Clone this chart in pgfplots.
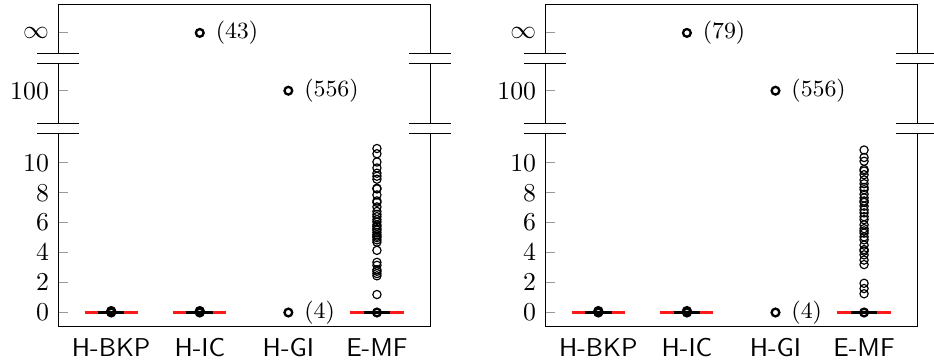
\documentclass[border=0pt]{standalone}
\usepackage{pgfplots}
\pgfplotsset{compat=1.18}
\begin{document}
\begin{tikzpicture}
\pgfplotsset{
 brk/.style={
  scale only axis, width=144.2pt, height=124.8pt,
  xmin=0.4, xmax=4.6, ymin=-0.96, ymax=20.54,
  xtick={1,2,3,4}, xticklabels={H-BKP,H-IC,H-GI,E-MF},
  x tick label style={font=\sffamily, yshift=-1pt},
  x tick style={draw=none},
  ytick={0,2,4,6,8,10,14.81,18.67},
  yticklabels={$0$,$2$,$4$,$6$,$8$,$10$,$100$,$\infty$},
  ytick pos=left,
  y tick style={gray!80, line width=0.4pt},
  major tick length=3.9pt,
  tick align=inside,
  clip=false,
  axis line style={line width=0.4pt},
 },
 med/.style={red!90!white, line width=1pt, mark=none},
 whk/.style={black, line width=0.8pt, mark=none},
 outl/.style={only marks, mark=o, mark size=1.6pt, black, mark options={line width=0.45pt}},
 outb/.style={only marks, mark=o, mark size=1.5pt, black, mark options={line width=0.9pt}},
}
\tikzset{lbl/.style={anchor=west, inner sep=0pt, xshift=6pt, font=\small}}
\newcommand{\brkmark}[1]{%
 \fill[white] ([xshift=-8.1pt,yshift=-1.94pt]#1) rectangle ([xshift=8.1pt,yshift=1.94pt]#1);
 \draw[line width=0.4pt] ([xshift=-8.1pt,yshift=-1.94pt]#1) -- ([xshift=8.1pt,yshift=-1.94pt]#1);
 \draw[line width=0.4pt] ([xshift=-8.1pt,yshift=1.94pt]#1) -- ([xshift=8.1pt,yshift=1.94pt]#1);}

% ---------- left panel ----------
\begin{axis}[brk, name=L]
\addplot[med] coordinates {(0.7,0) (1.3,0)};
\addplot[whk] coordinates {(0.85,0) (1.15,0)};
\addplot[med] coordinates {(1.7,0) (2.3,0)};
\addplot[whk] coordinates {(1.85,0) (2.15,0)};
\addplot[med] coordinates {(3.7,0) (4.3,0)};
\addplot[whk] coordinates {(3.85,0) (4.15,0)};
\addplot[outb] coordinates {(1,0) (1,0.05) (1,0.1) (2,0) (2,0.05) (2,0.1) (2,18.67) (3,14.81) (3,0) (4,0)};
\addplot[outl] table[row sep=\\] {x y\\
4 1.2\\ 4 2.45\\ 4 2.6\\ 4 2.75\\ 4 2.85\\ 4 3.15\\ 4 3.35\\ 4 4.15\\ 4 4.7\\ 4 4.85\\ 4 5.0\\ 4 5.1\\ 4 5.2\\ 4 5.35\\ 4 5.5\\ 4 5.6\\ 4 5.75\\ 4 5.85\\ 4 6.05\\ 4 6.2\\ 4 6.4\\ 4 6.55\\ 4 6.75\\ 4 7.05\\ 4 7.35\\ 4 7.45\\ 4 7.85\\ 4 8.25\\ 4 8.3\\ 4 8.9\\ 4 9.1\\ 4 9.3\\ 4 9.65\\ 4 10.05\\ 4 10.6\\ 4 10.95\\
};
\node[lbl] at (axis cs:2,18.67) {$(43)$};
\node[lbl] at (axis cs:3,14.81) {$(556)$};
\node[lbl] at (axis cs:3,0) {$(4)$};
\coordinate (L1) at (axis cs:0.4,12.3);
\coordinate (L2) at (axis cs:0.4,16.98);
\coordinate (L3) at (axis cs:4.6,12.3);
\coordinate (L4) at (axis cs:4.6,16.98);
\end{axis}
\brkmark{L1}\brkmark{L2}\brkmark{L3}\brkmark{L4}

% ---------- right panel ----------
\begin{axis}[brk, name=R, at={(188.8pt,0pt)}]
\addplot[med] coordinates {(0.7,0) (1.3,0)};
\addplot[whk] coordinates {(0.85,0) (1.15,0)};
\addplot[med] coordinates {(1.7,0) (2.3,0)};
\addplot[whk] coordinates {(1.85,0) (2.15,0)};
\addplot[med] coordinates {(3.7,0) (4.3,0)};
\addplot[whk] coordinates {(3.85,0) (4.15,0)};
\addplot[outb] coordinates {(1,0) (1,0.05) (1,0.1) (2,0) (2,0.05) (2,0.1) (2,18.67) (3,14.81) (3,0) (4,0)};
\addplot[outl] table[row sep=\\] {x y\\
4 1.25\\ 4 1.6\\ 4 1.95\\ 4 3.2\\ 4 3.5\\ 4 3.85\\ 4 4.1\\ 4 4.2\\ 4 4.5\\ 4 4.85\\ 4 5.05\\ 4 5.3\\ 4 5.45\\ 4 5.6\\ 4 5.85\\ 4 6.2\\ 4 6.4\\ 4 6.65\\ 4 6.85\\ 4 7.1\\ 4 7.35\\ 4 7.45\\ 4 7.65\\ 4 7.9\\ 4 8.2\\ 4 8.35\\ 4 8.6\\ 4 8.85\\ 4 9.2\\ 4 9.45\\ 4 9.55\\ 4 10.1\\ 4 10.35\\ 4 10.85\\
};
\node[lbl] at (axis cs:2,18.67) {$(79)$};
\node[lbl] at (axis cs:3,14.81) {$(556)$};
\node[lbl] at (axis cs:3,0) {$(4)$};
\coordinate (R1) at (axis cs:0.4,12.3);
\coordinate (R2) at (axis cs:0.4,16.98);
\coordinate (R3) at (axis cs:4.6,12.3);
\coordinate (R4) at (axis cs:4.6,16.98);
\end{axis}
\brkmark{R1}\brkmark{R2}\brkmark{R3}\brkmark{R4}

\pgfresetboundingbox
\path[use as bounding box] (-22.5pt,-13.95pt) rectangle (339.5pt,126.7pt);
\end{tikzpicture}
\end{document}
